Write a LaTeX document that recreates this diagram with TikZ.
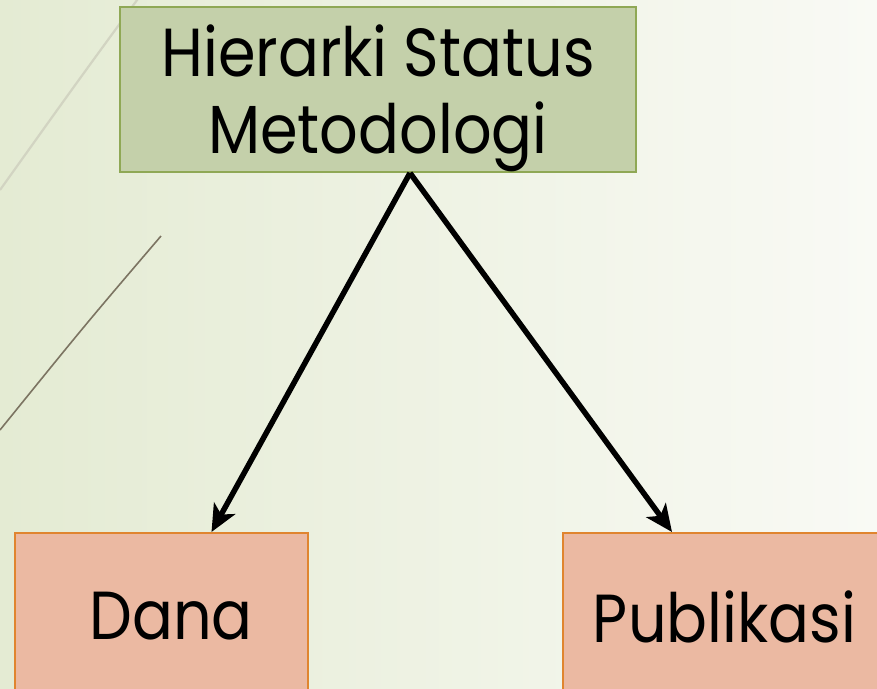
\documentclass[tikz,border=0pt]{standalone}
\usepackage{fontspec}
\setmainfont{Poppins}[FakeStretch=0.89]
\usetikzlibrary{arrows.meta,positioning}
\definecolor{topfill}{HTML}{C4D0AA}
\definecolor{topline}{HTML}{8FA855}
\definecolor{subfill}{HTML}{EBB9A2}
\definecolor{subline}{HTML}{E0852F}
\definecolor{bgleft}{HTML}{E4EBD3}
\definecolor{bgright}{HTML}{F9FAF5}
\definecolor{lineA}{HTML}{D2D4C2}
\definecolor{lineB}{HTML}{7C7462}
\begin{document}
\begin{tikzpicture}[x=1pt, y=-1pt,
    main/.style = {draw=topline, fill=topfill, line width=2pt, minimum width=516pt, minimum height=165pt, inner sep=0pt, align=center, text height=127pt, text depth=0pt, font=\fontsize{68}{77}\selectfont},
    sub/.style = {draw=subline, fill=subfill, line width=2pt, minimum height=167pt, inner sep=0pt, font=\fontsize{68}{77}\selectfont},
    arr/.style = {draw=black, line width=5.5pt, -{Stealth[length=27pt,width=24pt,inset=7pt]}}]
    \useasboundingbox (0,0) rectangle (877,688);
    \clip (0,0) rectangle (877,688);
    \shade[left color=bgleft, right color=bgright] (0,0) rectangle (877,688);
    % background strokes
    \draw[lineA, line width=2.2pt] (140,-4) .. controls (75,85) .. (0,190);
    \draw[lineB, line width=1.6pt] (161,236) .. controls (85,325) .. (0,430);

    \node[main] (H) at (378,89.5) {Hierarki Status\\Metodologi};
    \node[sub, minimum width=293pt] (D) at (161.5,616.5) {\hspace*{19pt}Dana};
    \node[sub, minimum width=323pt] (P) at (724.5,616.5) {Publikasi};

    \draw[arr] ([xshift=32pt]H.south) -- ([xshift=50pt]D.north);
    \draw[arr] ([xshift=32pt]H.south) -- ([xshift=-52.5pt]P.north);
\end{tikzpicture}
\end{document}
